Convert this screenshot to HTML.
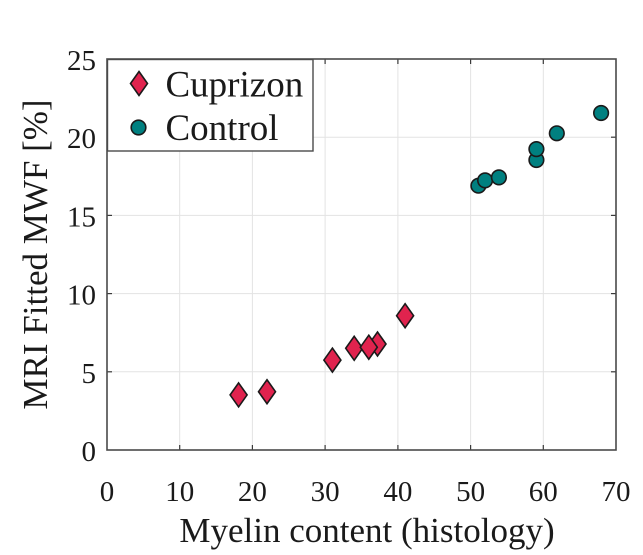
<!DOCTYPE html>
<html><head><meta charset="utf-8"><style>
html,body{margin:0;padding:0;background:#fff;font-family:"Liberation Serif","DejaVu Serif",serif;}
svg{display:block;}
svg text{font-family:"Liberation Serif","DejaVu Serif",serif;fill:#1a1a1a;}
</style></head><body>
<svg width="643" height="555" viewBox="0 0 643 555" xmlns="http://www.w3.org/2000/svg" font-family="'Liberation Serif', 'DejaVu Serif', serif" style="font-family:'Liberation Serif','DejaVu Serif',serif">
<rect width="643" height="555" fill="#fff"/>
<!-- grid -->
<g stroke="#e3e3e3" stroke-width="1">
<line x1="179.7" y1="59" x2="179.7" y2="450"/>
<line x1="252.4" y1="59" x2="252.4" y2="450"/>
<line x1="325.1" y1="59" x2="325.1" y2="450"/>
<line x1="397.9" y1="59" x2="397.9" y2="450"/>
<line x1="470.6" y1="59" x2="470.6" y2="450"/>
<line x1="543.3" y1="59" x2="543.3" y2="450"/>
<line x1="107" y1="371.8" x2="616" y2="371.8"/>
<line x1="107" y1="293.6" x2="616" y2="293.6"/>
<line x1="107" y1="215.4" x2="616" y2="215.4"/>
<line x1="107" y1="137.2" x2="616" y2="137.2"/>
</g>
<!-- ticks -->
<g stroke="#3a3a3a" stroke-width="1.2">
<line x1="179.7" y1="450" x2="179.7" y2="445"/><line x1="252.4" y1="450" x2="252.4" y2="445"/>
<line x1="325.1" y1="450" x2="325.1" y2="445"/><line x1="397.9" y1="450" x2="397.9" y2="445"/>
<line x1="470.6" y1="450" x2="470.6" y2="445"/><line x1="543.3" y1="450" x2="543.3" y2="445"/>
<line x1="179.7" y1="59" x2="179.7" y2="64"/><line x1="252.4" y1="59" x2="252.4" y2="64"/>
<line x1="325.1" y1="59" x2="325.1" y2="64"/><line x1="397.9" y1="59" x2="397.9" y2="64"/>
<line x1="470.6" y1="59" x2="470.6" y2="64"/><line x1="543.3" y1="59" x2="543.3" y2="64"/>
<line x1="107" y1="371.8" x2="112" y2="371.8"/><line x1="107" y1="293.6" x2="112" y2="293.6"/>
<line x1="107" y1="215.4" x2="112" y2="215.4"/><line x1="107" y1="137.2" x2="112" y2="137.2"/>
<line x1="616" y1="371.8" x2="611" y2="371.8"/><line x1="616" y1="293.6" x2="611" y2="293.6"/>
<line x1="616" y1="215.4" x2="611" y2="215.4"/><line x1="616" y1="137.2" x2="611" y2="137.2"/>
</g>
<!-- axes box -->
<rect x="107" y="59" width="509" height="391" fill="none" stroke="#4a4a4a" stroke-width="1.6"/>
<!-- data: cuprizon -->
<g fill="#e0234e" stroke="#1a1a1a" stroke-width="1.6" stroke-linejoin="miter">
<polygon points="238.6,382.9 247.1,394.9 238.6,406.9 230.1,394.9"/>
<polygon points="267,379.7 275.5,391.7 267,403.7 258.5,391.7"/>
<polygon points="332.4,348.1 340.9,360.1 332.4,372.1 323.9,360.1"/>
<polygon points="354.2,336.3 362.7,348.3 354.2,360.3 345.7,348.3"/>
<polygon points="377.5,332 386,344 377.5,356 369,344"/>
<polygon points="368.8,335.2 377.3,347.2 368.8,359.2 360.3,347.2"/>
<polygon points="405.1,303.7 413.6,315.7 405.1,327.7 396.6,315.7"/>
</g>
<!-- data: control -->
<g fill="#008080" stroke="#1a1a1a" stroke-width="1.6">
<circle cx="478.4" cy="185.7" r="7.3"/>
<circle cx="485.1" cy="180.4" r="7.3"/>
<circle cx="498.9" cy="177.4" r="7.3"/>
<circle cx="536.4" cy="160" r="7.3"/>
<circle cx="536.4" cy="149.1" r="7.3"/>
<circle cx="556.8" cy="133.3" r="7.3"/>
<circle cx="601.1" cy="113" r="7.3"/>
</g>
<!-- legend -->
<rect x="107.5" y="59.5" width="205.5" height="91.5" fill="#fff" stroke="#4a4a4a" stroke-width="1.4"/>
<polygon points="139,71.5 147.5,83.5 139,95.5 130.5,83.5" fill="#e0234e" stroke="#1a1a1a" stroke-width="1.6"/>
<circle cx="138.5" cy="127.5" r="7.3" fill="#008080" stroke="#1a1a1a" stroke-width="1.6"/>
<g font-family="'Liberation Serif', 'DejaVu Serif', serif" font-size="37" fill="#000">
<text x="165.5" y="96.5">Cuprizon</text>
<text x="165.5" y="140">Control</text>
</g>
<!-- y tick labels -->
<g font-family="'Liberation Serif', 'DejaVu Serif', serif" font-size="29" text-anchor="end" fill="#262626">
<text x="96" y="461">0</text>
<text x="96" y="382.8">5</text>
<text x="96" y="304.6">10</text>
<text x="96" y="226.4">15</text>
<text x="96" y="148.2">20</text>
<text x="96" y="70">25</text>
</g>
<!-- x tick labels -->
<g font-family="'Liberation Serif', 'DejaVu Serif', serif" font-size="29" text-anchor="middle" fill="#262626">
<text x="107" y="501">0</text>
<text x="179.7" y="501">10</text>
<text x="252.4" y="501">20</text>
<text x="325.1" y="501">30</text>
<text x="397.9" y="501">40</text>
<text x="470.6" y="501">50</text>
<text x="543.3" y="501">60</text>
<text x="616" y="501">70</text>
</g>
<!-- axis labels -->
<g font-family="'Liberation Serif', 'DejaVu Serif', serif" font-size="35" fill="#000">
<text x="367" y="542" text-anchor="middle">Myelin content (histology)</text>
<text transform="translate(47,254.5) rotate(-90)" x="0" y="0" text-anchor="middle">MRI Fitted MWF [%]</text>
</g>
</svg>
</body></html>
